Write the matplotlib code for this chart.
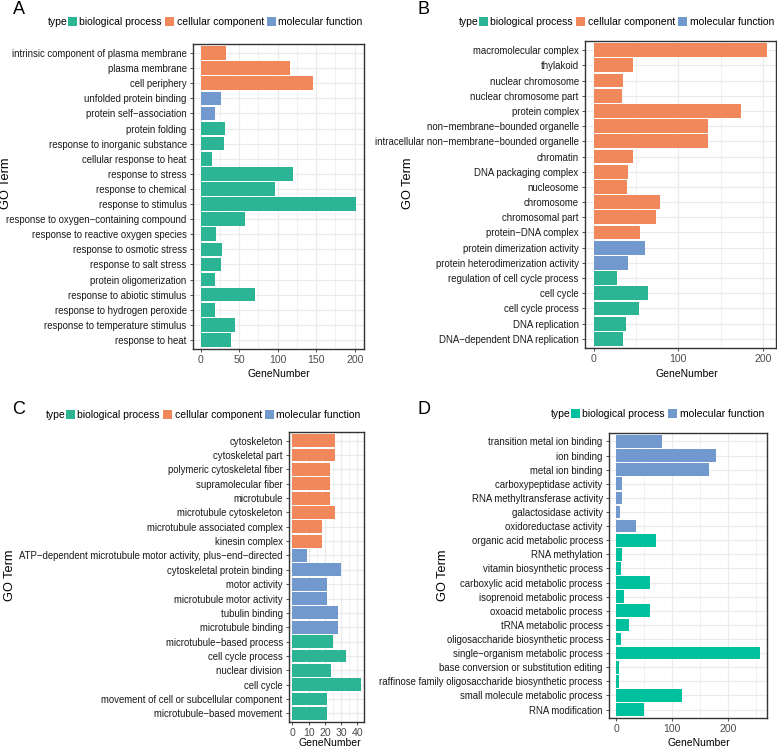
import matplotlib.pyplot as plt
from matplotlib.patches import Patch

plt.rcParams['font.family'] = ['Liberation Sans', 'DejaVu Sans']

# Panel A
terms_a = ["intrinsic component of plasma membrane", "plasma membrane", "cell periphery",
           "unfolded protein binding", "protein self−association", "protein folding",
           "response to inorganic substance", "cellular response to heat", "response to stress",
           "response to chemical", "response to stimulus", "response to oxygen−containing compound",
           "response to reactive oxygen species", "response to osmotic stress",
           "response to salt stress", "protein oligomerization", "response to abiotic stimulus",
           "response to hydrogen peroxide", "response to temperature stimulus", "response to heat"]
genes_a = [33, 116, 146, 26, 18, 31, 30, 14, 120, 97, 202, 57, 20, 27, 26, 18, 71, 19, 44, 39]
type_a = ["CC"] * 3 + ["MF"] * 2 + ["BP"] * 15

# Panel B
terms_b = ["macromolecular complex", "thylakoid", "nuclear chromosome", "nuclear chromosome part",
           "protein complex", "non−membrane−bounded organelle",
           "intracellular non−membrane−bounded organelle", "chromatin", "DNA packaging complex",
           "nucleosome", "chromosome", "chromosomal part", "protein−DNA complex",
           "protein dimerization activity", "protein heterodimerization activity",
           "regulation of cell cycle process", "cell cycle", "cell cycle process",
           "DNA replication", "DNA−dependent DNA replication"]
genes_b = [205, 46, 35, 33, 174, 135, 135, 47, 40, 39, 78, 73, 55, 61, 40, 28, 64, 53, 38, 35]
type_b = ["CC"] * 13 + ["MF"] * 2 + ["BP"] * 5

# Panel C
terms_c = ["cytoskeleton", "cytoskeletal part", "polymeric cytoskeletal fiber",
           "supramolecular fiber", "microtubule", "microtubule cytoskeleton",
           "microtubule associated complex", "kinesin complex",
           "ATP−dependent microtubule motor activity, plus−end−directed",
           "cytoskeletal protein binding", "motor activity", "microtubule motor activity",
           "tubulin binding", "microtubule binding", "microtubule−based process",
           "cell cycle process", "nuclear division", "cell cycle",
           "movement of cell or subcellular component", "microtubule−based movement"]
genes_c = [26, 26, 23, 23, 23, 26, 18, 18, 9, 30, 21, 21, 28, 28, 25, 33, 24, 42, 21, 21]
type_c = ["CC"] * 8 + ["MF"] * 6 + ["BP"] * 6

# Panel D
terms_d = ["transition metal ion binding", "ion binding", "metal ion binding",
           "carboxypeptidase activity", "RNA methyltransferase activity",
           "galactosidase activity", "oxidoreductase activity",
           "organic acid metabolic process", "RNA methylation", "vitamin biosynthetic process",
           "carboxylic acid metabolic process", "isoprenoid metabolic process",
           "oxoacid metabolic process", "tRNA metabolic process",
           "oligosaccharide biosynthetic process", "single−organism metabolic process",
           "base conversion or substitution editing",
           "raffinose family oligosaccharide biosynthetic process",
           "small molecule metabolic process", "RNA modification"]
genes_d = [82, 178, 166, 10, 10, 6, 36, 71, 11, 9, 60, 14, 61, 22, 9, 256, 5, 5, 118, 49]
type_d = ["MF"] * 7 + ["BP"] * 13

type_names = {"BP": "biological process", "CC": "cellular component", "MF": "molecular function"}
colors = {"BP": "#2CB594", "CC": "#F0885B", "MF": "#7199CE"}
colors_d = {"BP": "#00C19E", "MF": "#7199CE"}

W, H = 777, 748
fig = plt.figure(figsize=(W / 100, H / 100), dpi=100)


def rect(x0, y0, x1, y1):
    return [x0 / W, 1 - y1 / H, (x1 - x0) / W, (y1 - y0) / H]


def panel(box, terms, genes, kinds, cols, ticks, minor):
    ax = fig.add_axes(rect(*box))
    n = len(terms)
    pos = [n - 1 - i for i in range(n)]
    ax.barh(pos, genes, height=0.9, color=[cols[k] for k in kinds], zorder=2)
    ax.set_yticks(pos)
    ax.set_yticklabels(terms, fontsize=6.9, color='#1A1A1A')
    ax.set_ylim(-0.6, n - 0.4)
    top = max(genes)
    ax.set_xlim(-0.05 * top, 1.05 * top)
    ax.set_xticks(ticks)
    ax.set_xticklabels([str(t) for t in ticks], fontsize=7.6, color='#4D4D4D')
    ax.set_xticks(minor, minor=True)
    ax.grid(True, which='major', color='#EBEBEB', lw=0.9, zorder=0)
    ax.grid(True, which='minor', axis='x', color='#EBEBEB', lw=0.5, zorder=0)
    ax.set_axisbelow(True)
    ax.tick_params(which='major', length=2.5, width=0.6, color='#333333', pad=2)
    ax.tick_params(which='minor', length=0)
    for s in ax.spines.values():
        s.set_color('#333333')
        s.set_linewidth(1.0)
    return ax


def legend(x, y, kinds, cols):
    fig.text(x / W, 1 - y / H, "type", fontsize=7.5, va='center', ha='left')
    handles = [Patch(facecolor=cols[k], edgecolor='none', label=type_names[k]) for k in kinds]
    fig.legend(handles=handles, loc='center left', bbox_to_anchor=((x + 20) / W, 1 - y / H),
               ncol=len(kinds), frameon=False, fontsize=7.5, handlelength=0.85,
               handleheight=0.85, handletextpad=0.25, columnspacing=0.3,
               borderpad=0, borderaxespad=0)


def labels(letter, lx, ly, gx, gy, nx, ny):
    fig.text(lx / W, 1 - ly / H, letter, fontsize=13, ha='center', va='center')
    fig.text(gx / W, 1 - gy / H, "GO Term", fontsize=9.2, rotation=90, ha='center', va='center')
    fig.text(nx / W, 1 - ny / H, "GeneNumber", fontsize=7.5, ha='center', va='center')


panel((193, 44, 364, 349), terms_a, genes_a, type_a, colors, [0, 50, 100, 150, 200],
      [25, 75, 125, 175])
legend(48, 22, ["BP", "CC", "MF"], colors)
labels("A", 19, 10, 6, 183, 279, 374)

panel((585, 41, 776, 348), terms_b, genes_b, type_b, colors, [0, 100, 200], [50, 150])
legend(459, 22, ["BP", "CC", "MF"], colors)
labels("B", 424, 10, 408, 183, 687, 374)

panel((289, 432, 364, 722), terms_c, genes_c, type_c, colors, [0, 10, 20, 30, 40],
      [5, 15, 25, 35])
legend(46, 415, ["BP", "CC", "MF"], colors)
labels("C", 19, 409, 10, 575, 330, 743)

panel((609, 433, 767, 718), terms_d, genes_d, type_d, colors_d, [0, 100, 200], [50, 150, 250])
legend(551, 414, ["BP", "MF"], colors_d)
labels("D", 424, 409, 443, 575, 699, 743)

plt.savefig("out.png", dpi=100)
